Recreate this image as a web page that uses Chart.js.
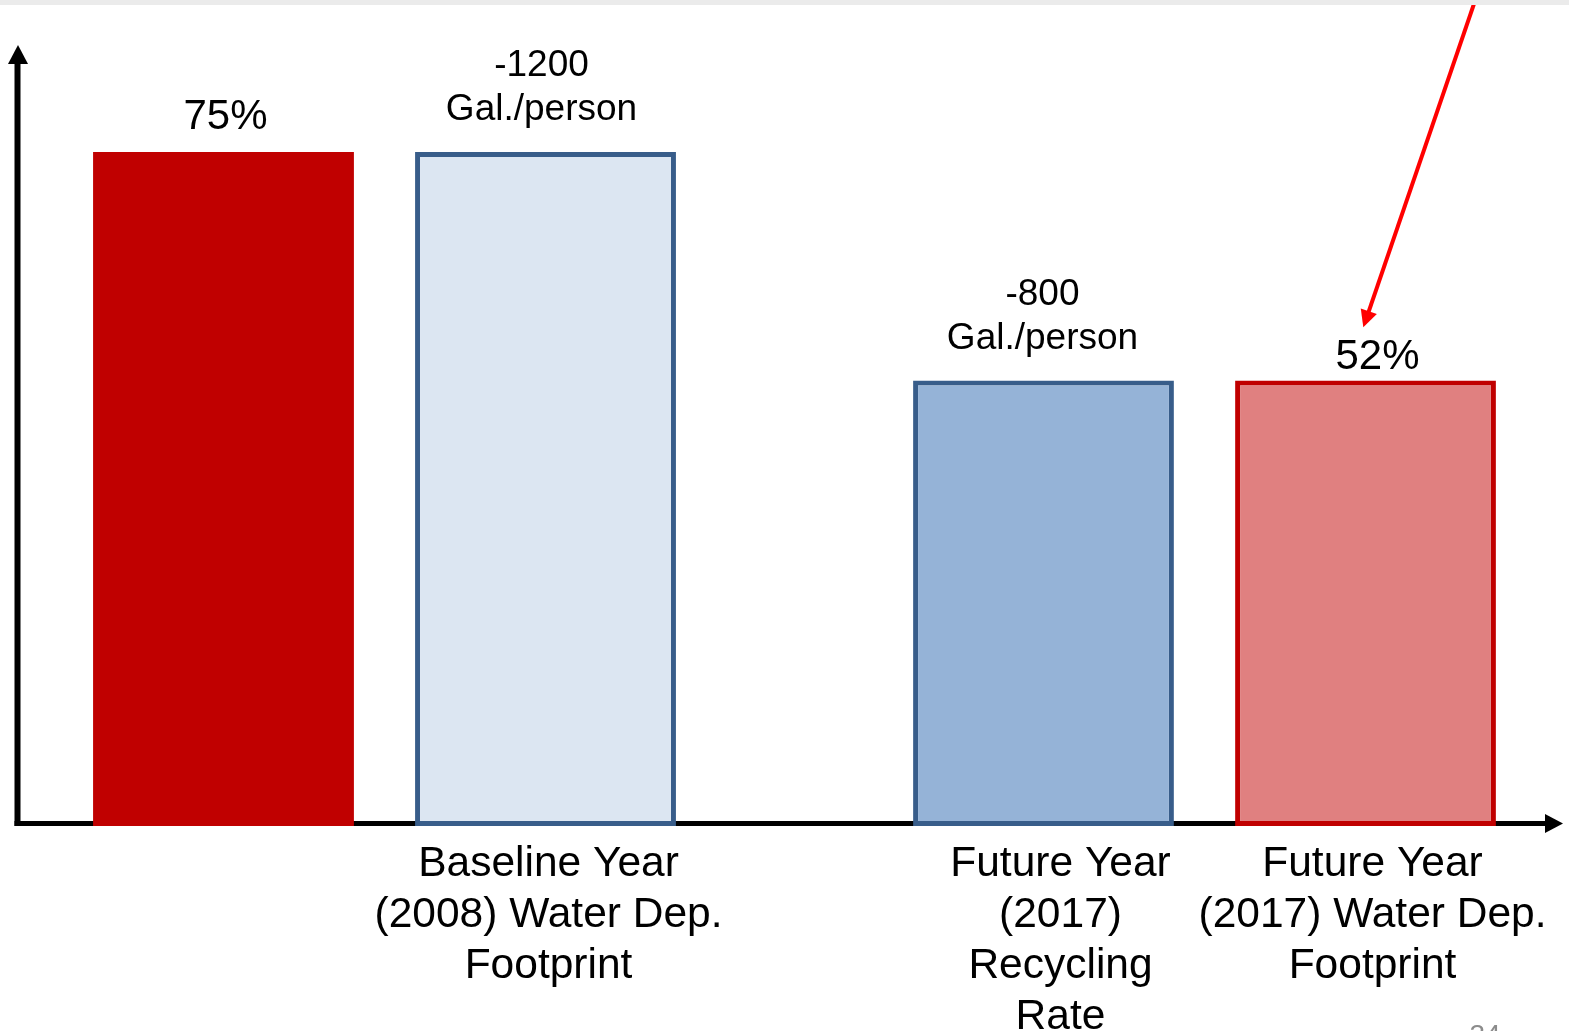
<!DOCTYPE html>
<html>
<head>
<meta charset="utf-8">
<title>Water dependency footprint</title>
<script src="https://cdn.jsdelivr.net/npm/chart.js@4.4.1/dist/chart.umd.min.js"></script>
<style>
  html, body { margin: 0; padding: 0; background: #fff; overflow: hidden; }
  #wrap { position: relative; width: 1569px; height: 1031px; }
</style>
</head>
<body>
<div id="wrap"><canvas id="chart"></canvas></div>
<script>
// ─── Data ───────────────────────────────────────────────────────────────────
// Two groups (baseline / future), each holding a pair of bars.
const groups = ['Baseline (2008)', 'Future (2017)'];

// first bar of each pair
const firstValues = [1200, 793];
const firstNotes = [['75%'], ['-800', 'Gal./person']];
const firstNames = [[], ['Future Year', '(2017)', 'Recycling', 'Rate']];

// second bar of each pair
const secondValues = [1200, 793];
const secondNotes = [['-1200', 'Gal./person'], ['52%']];
const secondNames = [
  ['Baseline Year', '(2008) Water Dep.', 'Footprint'],
  ['Future Year', '(2017) Water Dep.', 'Footprint'],
];

// ─── Look ───────────────────────────────────────────────────────────────────
const FONT = '"Liberation Sans", Arial, sans-serif';
const DARK_RED = '#C00000';
const NAVY = '#385D8A';

// per bar tweaks of the hand-placed text boxes: [dataset][index]
const noteSize = [[42, 37], [37, 42]];
const noteLift = [[35, 42], [42, 23]];
const noteShift = [[2, -1], [-4, 12]];
const nameShift = [[0, 17], [3, 7]];

function arrowHead(ctx, tipX, tipY, angle, len, half) {
  ctx.save();
  ctx.translate(tipX, tipY);
  ctx.rotate(angle);
  ctx.beginPath();
  ctx.moveTo(0, 0);
  ctx.lineTo(-len, -half);
  ctx.lineTo(-len, half);
  ctx.closePath();
  ctx.fill();
  ctx.restore();
}

// axes with arrow tips, drawn under the bars
const axesPlugin = {
  id: 'slideAxes',
  beforeDatasetsDraw(chart) {
    const ctx = chart.ctx;
    ctx.save();
    ctx.strokeStyle = '#000';
    ctx.fillStyle = '#000';
    ctx.lineCap = 'butt';

    ctx.lineWidth = 6;
    ctx.beginPath();
    ctx.moveTo(17.5, 826);
    ctx.lineTo(17.5, 60);
    ctx.stroke();
    arrowHead(ctx, 18, 45, -Math.PI / 2, 19, 10);

    ctx.lineWidth = 5;
    ctx.beginPath();
    ctx.moveTo(14.5, 823.5);
    ctx.lineTo(1548, 823.5);
    ctx.stroke();
    arrowHead(ctx, 1563, 823.5, 0, 18, 9.5);
    ctx.restore();
  },
};

// value notes above the bars, names below, plus the slide decorations
const textPlugin = {
  id: 'slideText',
  afterDatasetsDraw(chart) {
    const ctx = chart.ctx;
    const notes = [firstNotes, secondNotes];
    const names = [firstNames, secondNames];
    ctx.save();
    ctx.fillStyle = '#000';
    ctx.textAlign = 'center';
    ctx.textBaseline = 'middle';

    for (let d = 0; d < 2; d++) {
      chart.getDatasetMeta(d).data.forEach((bar, i) => {
        const top = Math.min(bar.y, bar.base);
        const bottom = Math.max(bar.y, bar.base);

        const lines = notes[d][i];
        ctx.font = noteSize[d][i] + 'px ' + FONT;
        lines.forEach((line, k) => {
          const y = top - noteLift[d][i] - (lines.length - 1 - k) * 44;
          ctx.fillText(line, bar.x + noteShift[d][i], y);
        });

        ctx.font = '42.5px ' + FONT;
        names[d][i].forEach((line, k) => {
          ctx.fillText(line, bar.x + nameShift[d][i], bottom + 38 + k * 51);
        });
      });
    }

    // red pointer coming down from the (cut off) title
    const tipX = 1363.3, tipY = 327.3;
    const fromX = 1476, fromY = -2;
    const ang = Math.atan2(tipY - fromY, tipX - fromX);
    ctx.strokeStyle = '#FF0000';
    ctx.fillStyle = '#FF0000';
    ctx.lineWidth = 4;
    ctx.beginPath();
    ctx.moveTo(fromX, fromY);
    ctx.lineTo(tipX - 14 * Math.cos(ang), tipY - 14 * Math.sin(ang));
    ctx.stroke();
    arrowHead(ctx, tipX, tipY, ang, 17, 8.5);

    // grey title band at the very top
    ctx.fillStyle = '#EBEBEB';
    ctx.fillRect(0, 0, chart.width, 5);

    // slide number, mostly cut off
    ctx.fillStyle = '#8C8C8C';
    ctx.font = '28px ' + FONT;
    ctx.textBaseline = 'top';
    ctx.fillText('34', 1485, 1022);
    ctx.restore();
  },
};

const chart = new Chart(document.getElementById('chart'), {
  type: 'bar',
  data: {
    labels: groups,
    datasets: [
      {
        data: firstValues,
        backgroundColor: [DARK_RED, '#95B3D7'],
        borderColor: [DARK_RED, NAVY],
        borderWidth: [0, 5],
      },
      {
        data: secondValues,
        backgroundColor: ['#DCE6F2', '#E08080'],
        borderColor: [NAVY, DARK_RED],
        borderWidth: [5, 5],
      },
    ],
  },
  options: {
    responsive: true,
    maintainAspectRatio: false,
    animation: false,
    devicePixelRatio: 1,
    layout: { padding: { left: 384.5, right: 364.5, top: 152, bottom: 205 } },
    datasets: {
      bar: {
        borderSkipped: false,
        categoryPercentage: 0.7854,
        barPercentage: 0.81,
        clip: false,
      },
    },
    scales: {
      x: { display: false, offset: false },
      y: { display: false, min: 0, max: 1200 },
    },
    plugins: {
      legend: { display: false },
      title: { display: false },
      tooltip: { enabled: false },
    },
    events: [],
  },
  plugins: [axesPlugin, textPlugin],
});
</script>
</body>
</html>
